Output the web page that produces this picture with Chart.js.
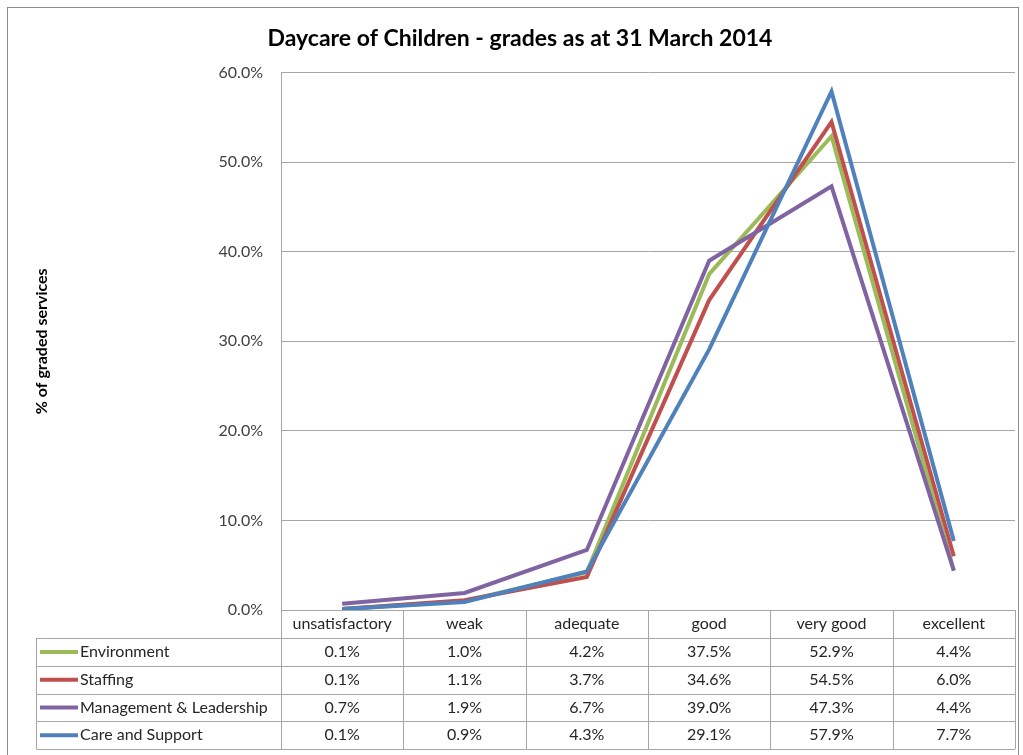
<!DOCTYPE html>
<html>
<head>
<meta charset="utf-8">
<script src="https://cdn.jsdelivr.net/npm/chart.js@4"></script>
<style>
  body { margin: 0; background: #fff; }
  #wrap { width: 1023px; height: 755px; position: relative; }
</style>
</head>
<body>
<div id="wrap"><canvas id="myChart_grades"></canvas></div>
<script>
// grades (x categories)
const grades = ['unsatisfactory', 'weak', 'adequate', 'good', 'very good', 'excellent'];

// % of graded services per theme
const environment = [0.1, 1.0, 4.2, 37.5, 52.9, 4.4];
const staffing = [0.1, 1.1, 3.7, 34.6, 54.5, 6.0];
const management = [0.7, 1.9, 6.7, 39.0, 47.3, 4.4];
const careSupport = [0.1, 0.9, 4.3, 29.1, 57.9, 7.7];

const seriesNames = ['Environment', 'Staffing', 'Management & Leadership', 'Care and Support'];
const seriesColours = ['#9BBB59', '#C0504D', '#8064A2', '#4F81BD'];

const yTicks = [0, 10, 20, 30, 40, 50, 60];

const FONT = 'Lato, "Noto Sans", sans-serif';
const gridGrey = '#a6a6a6';

// draws the outer frame of the chart
const framePlugin = {
  id: 'frame',
  beforeDraw(chart) {
    const ctx = chart.ctx;
    ctx.save();
    ctx.fillStyle = '#fff';
    ctx.fillRect(0, 0, chart.width, chart.height);
    ctx.strokeStyle = '#8c8c8c';
    ctx.lineWidth = 1;
    ctx.strokeRect(7.5, 7.5, chart.width - 12, chart.height + 10);
    ctx.restore();
  }
};

// excel style data table under the plot
const tablePlugin = {
  id: 'dataTable',
  afterDraw(chart) {
    const { ctx, chartArea } = chart;
    const x = chart.scales.x;
    const colW = (chartArea.right - chartArea.left) / grades.length;
    const top = chartArea.bottom;
    const headH = 28;
    const rowH = 27.8;
    const legendLeft = 36.5;
    const bottom = top + headH + rowH * seriesNames.length;

    ctx.save();
    ctx.strokeStyle = gridGrey;
    ctx.lineWidth = 1;

    // vertical lines of the columns
    for (let i = 0; i <= grades.length; i++) {
      const px = Math.round(chartArea.left + i * colW) + 0.5;
      ctx.beginPath();
      ctx.moveTo(px, top);
      ctx.lineTo(px, bottom);
      ctx.stroke();
    }
    // left edge of legend column
    ctx.beginPath();
    ctx.moveTo(legendLeft, top + headH);
    ctx.lineTo(legendLeft, bottom);
    ctx.stroke();
    // horizontal lines
    for (let r = 0; r <= seriesNames.length; r++) {
      const py = Math.round(top + headH + r * rowH) + 0.5;
      ctx.beginPath();
      ctx.moveTo(legendLeft, py);
      ctx.lineTo(chartArea.right, py);
      ctx.stroke();
    }

    ctx.fillStyle = '#262626';
    ctx.font = '16px ' + FONT;
    ctx.textBaseline = 'middle';
    ctx.textAlign = 'center';
    grades.forEach((g, i) => {
      ctx.fillText(g, x.getPixelForValue(i), top + headH / 2);
    });

    chart.data.datasets.forEach((ds, r) => {
      const cy = top + headH + r * rowH + rowH / 2;
      // legend key
      ctx.strokeStyle = ds.borderColor;
      ctx.lineWidth = 4;
      ctx.beginPath();
      ctx.moveTo(40, cy);
      ctx.lineTo(78, cy);
      ctx.stroke();
      ctx.fillStyle = '#262626';
      ctx.textAlign = 'left';
      ctx.fillText(ds.label, 80, cy);
      ctx.textAlign = 'center';
      ds.data.forEach((v, i) => {
        ctx.fillText(v.toFixed(1) + '%', x.getPixelForValue(i), cy);
      });
    });
    ctx.restore();
  }
};

const allSeries = [environment, staffing, management, careSupport];

const data_grades = {
  labels: grades,
  datasets: allSeries.map((vals, i) => ({
    label: seriesNames[i],
    data: vals,
    borderColor: seriesColours[i],
    backgroundColor: seriesColours[i],
    borderWidth: 4,
    pointRadius: 0,
    tension: 0,
    order: allSeries.length - i
  }))
};

const config_grades = {
  type: 'line',
  data: data_grades,
  plugins: [framePlugin, tablePlugin],
  options: {
    responsive: true,
    maintainAspectRatio: false,
    animation: false,
    layout: { padding: { left: 25, right: 8, top: 0, bottom: 145 } },
    plugins: {
      legend: { display: false },
      tooltip: { enabled: false },
      title: {
        display: true,
        text: 'Daycare of Children - grades as at 31 March 2014',
        color: '#000',
        font: { family: FONT, size: 23, weight: 'bold' },
        padding: { top: 25, bottom: 20 }
      }
    },
    scales: {
      x: {
        display: false,
        offset: true
      },
      y: {
        min: 0,
        max: 60,
        afterFit(scale) { scale.width = 256; },
        afterBuildTicks(scale) { scale.ticks = yTicks.map(v => ({ value: v })); },
        grid: { color: gridGrey, drawTicks: false },
        border: { display: true, color: gridGrey },
        ticks: {
          padding: 18,
          color: '#404040',
          font: { family: FONT, size: 16 },
          callback: v => v.toFixed(1) + '%'
        },
        title: {
          display: true,
          text: '% of graded services',
          color: '#000',
          font: { family: FONT, size: 16, weight: 'bold' },
          padding: { top: 7, bottom: 0 }
        }
      }
    }
  }
};

const lineChart_grades = new Chart(
  document.getElementById('myChart_grades'),
  config_grades
);
</script>
</body>
</html>
